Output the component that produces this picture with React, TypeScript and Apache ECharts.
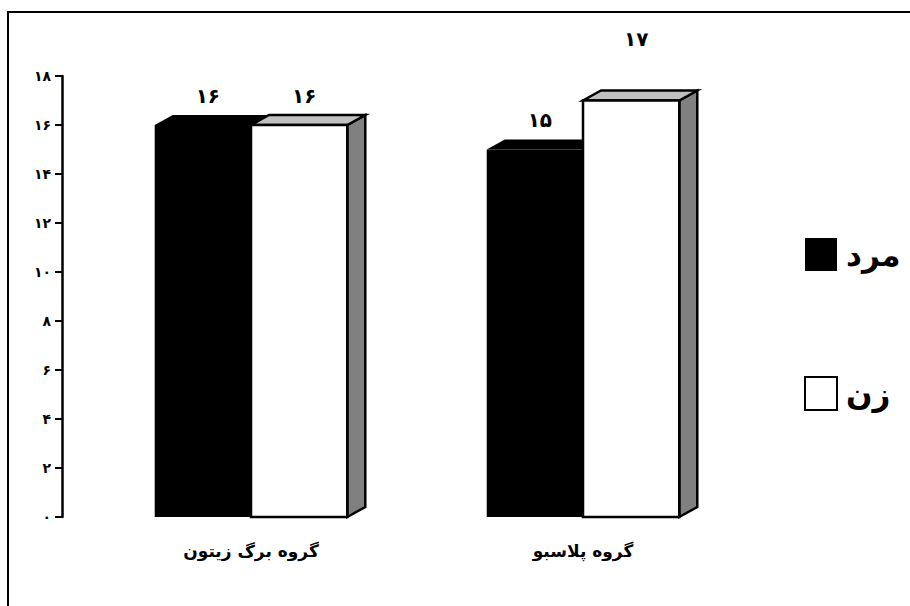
import React, { useEffect, useRef } from "react";
import * as echarts from "echarts";

const categories = ["گروه برگ زیتون", "گروه پلاسبو"];
const seriesNames = ["مرد", "زن"];
const menValues = [16, 15];
const womenValues = [16, 17];
const yTickLabels = ["۰", "۲", "۴", "۶", "۸", "۱۰", "۱۲", "۱۴", "۱۶", "۱۸"];

// label lift above each bar top (style only)
const menLabelLift = [29, 30];
const womenLabelLift = [29, 62];

const FA = "۰۱۲۳۴۵۶۷۸۹";
const toFa = (n: number | string) => String(n).replace(/\d/g, (d) => FA[+d]);

const DX = 18;
const DY = 10;
const FONT = "'DejaVu Sans', sans-serif";

function makeRender(side: number, front: string, topC: string, sideC: string, stroke: string | null, lifts: number[]) {
  return (params: any, api: any) => {
    const ci = api.value(0);
    const v = api.value(1);
    const top = api.coord([ci, v]);
    const base = api.coord([ci, 0]);
    const band = api.size([1, 0])[0];
    const bw = band * 0.29;
    const x0 = side === 0 ? top[0] - bw : top[0];
    const x1 = x0 + bw;
    const yT = top[1];
    const yB = base[1];
    const st = stroke ? { stroke, lineWidth: 2.5, lineJoin: "miter" } : {};
    return {
      type: "group",
      children: [
        {
          type: "polygon",
          shape: { points: [[x1, yT], [x1 + DX, yT - DY], [x1 + DX, yB - DY], [x1, yB]] },
          style: { fill: sideC, ...st },
        },
        {
          type: "polygon",
          shape: { points: [[x0, yT], [x0 + DX, yT - DY], [x1 + DX, yT - DY], [x1, yT]] },
          style: { fill: topC, ...st },
        },
        {
          type: "rect",
          shape: { x: x0, y: yT, width: bw, height: yB - yT },
          style: { fill: front, ...st },
        },
        {
          type: "text",
          x: x0 + bw / 2 + 5,
          y: yT - lifts[params.dataIndex],
          style: {
            text: toFa(v),
            fill: "#000",
            font: `bold 20px ${FONT}`,
            align: "center",
            verticalAlign: "middle",
          },
        },
      ],
    };
  };
}

export default function App() {
  const ref = useRef<HTMLDivElement>(null);
  useEffect(() => {
    document.body.style.margin = "0";
    const chart = echarts.init(ref.current!, null, { renderer: "svg" });
    chart.setOption({
      animation: false,
      backgroundColor: "#fff",
      grid: { left: 85, right: 161, top: 76, bottom: 89 },
      xAxis: {
        type: "category",
        data: categories,
        axisLine: { show: false },
        axisTick: { show: false },
        axisLabel: {
          margin: 25,
          color: "#000",
          fontWeight: "bold",
          fontSize: 17,
          fontFamily: FONT,
        },
      },
      yAxis: {
        type: "value",
        min: 0,
        max: 18,
        interval: 2,
        offset: 23,
        splitLine: { show: false },
        axisLine: { show: true, lineStyle: { color: "#000", width: 2.5 } },
        axisTick: { show: true, length: 7, lineStyle: { color: "#000", width: 2 } },
        axisLabel: {
          margin: 11,
          color: "#000",
          fontWeight: "bold",
          fontSize: 14,
          fontFamily: FONT,
          formatter: (v: number) => yTickLabels[Math.round(v / 2)],
        },
      },
      legend: {
        orient: "vertical",
        left: 799,
        top: 233,
        itemWidth: 32,
        itemHeight: 33,
        itemGap: 105,
        icon: "rect",
        selectedMode: false,
        textStyle: {
          color: "#000",
          fontSize: 31,
          fontWeight: "bold",
          fontFamily: FONT,
          padding: [0, 0, 0, 4],
        },
        data: [
          { name: seriesNames[0], itemStyle: { color: "#000" } },
          { name: seriesNames[1], itemStyle: { color: "#fff", borderColor: "#000", borderWidth: 2 } },
        ],
      },
      graphic: [
        {
          type: "rect",
          shape: { x: 8, y: 12, width: 1200, height: 1200 },
          style: { fill: "none", stroke: "#000", lineWidth: 2 },
          silent: true,
        },
      ],
      series: [
        {
          name: seriesNames[0],
          type: "custom",
          itemStyle: { color: "#000" },
          renderItem: makeRender(0, "#000", "#000", "#000", null, menLabelLift),
          data: menValues.map((v, i) => [i, v]),
          encode: { x: 0, y: 1 },
        },
        {
          name: seriesNames[1],
          type: "custom",
          itemStyle: { color: "#fff", borderColor: "#000", borderWidth: 2 },
          renderItem: makeRender(1, "#fff", "#c0c0c0", "#808080", "#000", womenLabelLift),
          data: womenValues.map((v, i) => [i, v]),
          encode: { x: 0, y: 1 },
        },
      ],
    });
    return () => chart.dispose();
  }, []);
  return <div ref={ref} style={{ width: 910, height: 606 }} />;
}
